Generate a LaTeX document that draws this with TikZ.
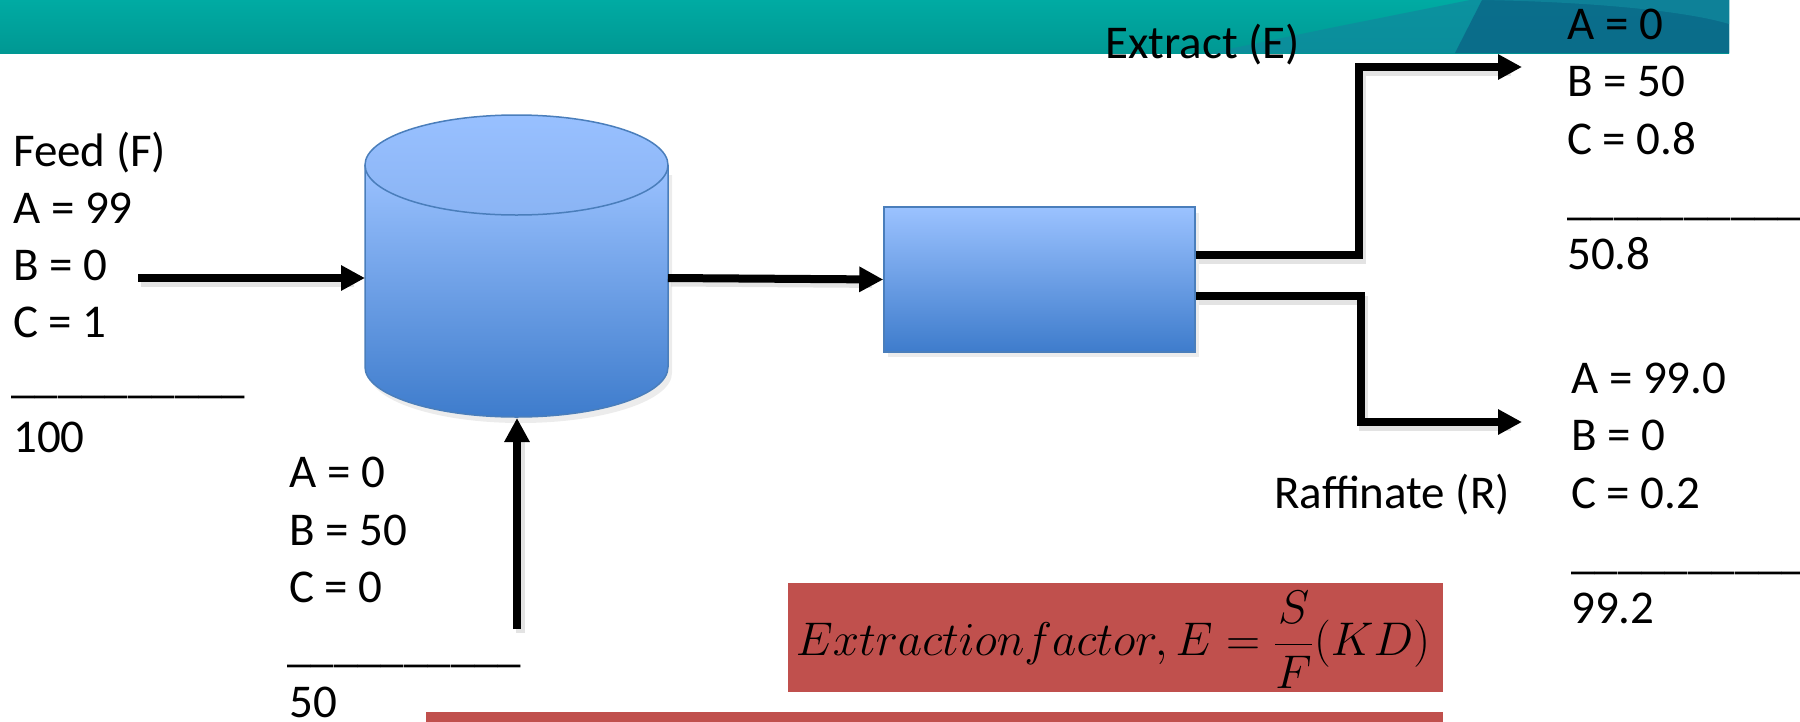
\documentclass[tikz,border=0pt]{standalone}
\usepackage{fontspec}
\setmainfont{Carlito}
\usepackage{graphicx}
\usetikzlibrary{arrows.meta}
\definecolor{teal1}{RGB}{0,171,163}
\definecolor{teal2}{RGB}{0,152,147}
\definecolor{tealmid}{RGB}{16,138,158}
\definecolor{tealdark}{RGB}{10,104,136}
\definecolor{bluetop}{RGB}{155,194,255}
\definecolor{bluebot}{RGB}{62,124,204}
\definecolor{capTop}{RGB}{152,192,255}
\definecolor{capBot}{RGB}{138,180,244}
\definecolor{blueline}{RGB}{74,126,187}
\definecolor{redbox}{RGB}{192,80,77}
\begin{document}
\begin{tikzpicture}[x=1pt,y=-1pt,
  lbl/.style={anchor=base west, inner sep=0pt, font=\fontsize{47}{56}\selectfont},
  flow/.style={line width=8pt, -{Triangle[length=24pt,width=24pt]}, line join=miter},
  flowshadow/.style={line width=9pt, black!18, opacity=0.6, line join=miter, shorten >=14pt},
  unit/.style={draw=blueline, line width=1.5pt, top color=bluetop, bottom color=bluebot},
  redbg/.style={fill=redbox, inner sep=0pt}]
\useasboundingbox (0,0) rectangle (1800,721);

% banner
\shade[top color=teal1, bottom color=teal2] (0,0) rectangle (1729,53);
\fill[tealmid, opacity=0.75] (1210,53) -- (1330,28) -- (1470,0) -- (1729,0) -- (1729,53) -- cycle;
\fill[tealdark, opacity=0.85] (1455,53) -- (1482,0) -- (1729,0) -- (1729,53) -- cycle;
\fill[tealmid, opacity=0.7] (1482,0) .. controls (1600,2) and (1690,12) .. (1729,24) -- (1729,0) -- cycle;

% coordinates
\coordinate (feedEnd) at (138,278);
\coordinate (cylW) at (365,278);
\coordinate (cylE) at (668,278);
\coordinate (cylB) at (517,418);
\coordinate (solvStart) at (517,629);
\coordinate (eTip) at (1522,67);
\coordinate (rTip) at (1522,422);

% cylinder (mixer)
\fill[black!12, opacity=0.6] (369,175) -- (369,373) arc[start angle=180, end angle=0, x radius=151.5, y radius=50] -- (672,175) -- cycle;
\shade[top color=bluetop, bottom color=bluebot] (365,165) -- (365,367) arc[start angle=180, end angle=0, x radius=151.5, y radius=50] -- (668,165) -- cycle;
\draw[blueline, line width=1.5pt] (365,165) -- (365,367) arc[start angle=180, end angle=0, x radius=151.5, y radius=50] -- (668,165);
\draw[blueline, line width=1.5pt, top color=capTop, bottom color=capBot] (516.5,165) ellipse[x radius=151.5, y radius=50];

% separator
\fill[black!12, opacity=0.6] (888,213) rectangle (1199,357);
\node[unit, minimum width=311pt, minimum height=145pt, inner sep=0pt] (sep) at (1039.5,279.5) {};

% flows (shadows)
\draw[flowshadow] ([shift={(3,4)}]feedEnd) -- ([shift={(3,4)}]cylW);
\draw[flowshadow] ([shift={(3,4)}]cylE) -- ([shift={(3,4)}]sep.west);
\draw[flowshadow] ([shift={(3,4)}]solvStart) -- ([shift={(3,4)}]cylB);
\draw[flowshadow] ([shift={(3,-20.5)}]sep.east) -- ++(163,0) |- ([shift={(3,4)}]eTip);
\draw[flowshadow] ([shift={(3,20.5)}]sep.east) -- ++(165,0) |- ([shift={(3,4)}]rTip);

% flows
\draw[flow] (feedEnd) -- (cylW);
\draw[flow] (cylE) -- (sep.west);
\draw[flow] (solvStart) -- (cylB);
\draw[flow] ([shift={(0,-24.5)}]sep.east) -- ++(163,0) |- (eTip);
\draw[flow] ([shift={(0,16.5)}]sep.east) -- ++(165,0) |- (rTip);

% texts: feed
\node[lbl] (feed) at (13,166) {Feed (F)};
\node[lbl] (fA) at (13,223) {A = 99};
\node[lbl] (fB) at (13,280) {B = 0};
\node[lbl] (fC) at (13,337) {C = 1};
\node[lbl] (fL) at (11,392) {\_\_\_\_\_\_\_\_\_\_};
\node[lbl] (fT) at (13,452) {100};

% solvent
\node[lbl] (sA) at (289,487) {A = 0};
\node[lbl] (sB) at (289,545) {B = 50};
\node[lbl] (sC) at (289,602) {C = 0};
\node[lbl] (sL) at (287,661) {\_\_\_\_\_\_\_\_\_\_};
\node[lbl] (sT) at (289,717) {50};

% extract
\node[lbl] (ext) at (1105,58) {Extract (E)};
\node[lbl] (eA) at (1567,39) {A = 0};
\node[lbl] (eB) at (1567,96) {B = 50};
\node[lbl] (eC) at (1567,154) {C = 0.8};
\node[lbl] (eL) at (1567,214) {\_\_\_\_\_\_\_\_\_\_\_};
\node[lbl] (eT) at (1567,269) {50.8};

% raffinate
\node[lbl] (raf) at (1274,508) {Raffinate (R)};
\node[lbl] (rA) at (1571,393) {A = 99.0};
\node[lbl] (rB) at (1571,450) {B = 0};
\node[lbl] (rC) at (1571,508) {C = 0.2};
\node[lbl] (rL) at (1571,568) {\_\_\_\_\_\_\_\_\_\_\_};
\node[lbl] (rT) at (1571,623) {99.2};

% equation boxes
\node[redbg, minimum width=655pt, minimum height=109pt] (ef) at (1115.5,637.5) {};
\node[inner sep=0pt] (efText) at (1113,640)
  {\resizebox{634pt}{!}{\fontsize{45}{54}\selectfont$\displaystyle Extractionfactor, E=\frac{S}{F}(KD)$}};
\node[redbg, minimum width=1017pt, minimum height=30pt, anchor=north west] (kd) at (426,712) {};
\end{tikzpicture}
\end{document}
